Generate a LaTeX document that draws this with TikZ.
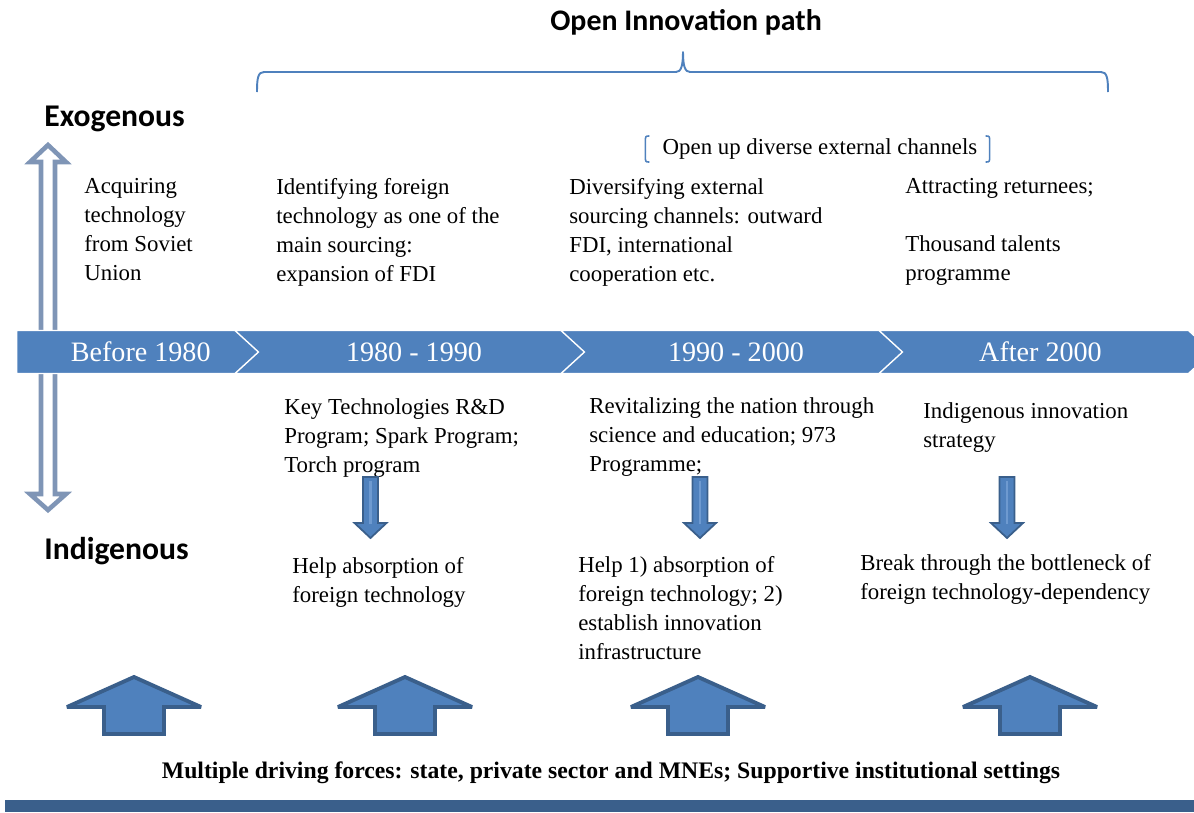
\documentclass[tikz,border=0pt]{standalone}
\usepackage{fontspec}
\setmainfont{Liberation Serif}
\newfontfamily\headfont{Carlito}
\usepackage{tikz}
\usetikzlibrary{positioning, shapes.symbols}

\definecolor{barblue}{HTML}{4F81BD}
\definecolor{edgeblue}{HTML}{3A5F8B}
\definecolor{axisgray}{HTML}{7F95B6}
\definecolor{shineblue}{HTML}{6E9AD0}

\begin{document}
\begin{tikzpicture}[
    x=0.02cm, y=-0.02cm,
    period/.style={signal, signal to=east, signal pointer angle=85, fill=barblue, draw=white, line width=0.8pt, text=white, minimum height=0.86cm, inner sep=0pt, font=\fontsize{16}{18}\selectfont},
    note/.style={align=left, anchor=north west, inner sep=0pt, font=\fontsize{13}{16.5}\selectfont},
    heading/.style={anchor=west, inner sep=0pt, font=\headfont\bfseries\fontsize{18}{20}\selectfont},
    brace/.style={draw=barblue, line width=1.1pt, line join=round},
    downarrow/.style={fill=barblue, draw=edgeblue, line width=1pt},
    uparrow/.style={fill=barblue, draw=edgeblue, line width=2.2pt}
    ]
    \useasboundingbox (0,0) rectangle (1194,812);

    % Title and brace
    \node (title) at (686,22) [inner sep=0pt, font=\headfont\bfseries\fontsize{17}{20}\selectfont] {Open Innovation path};
    \draw [brace] (257,92) .. controls (257,78) and (258,72) .. (264,72) -- (676,72)
        .. controls (681,72) and (683,66) .. (683,52) .. controls (683,66) and (685,72) .. (690,72)
        -- (1101,72) .. controls (1107,72) and (1108,78) .. (1108,92);

    % Axis labels and double arrow
    \node (exo) at (44,119) [heading] {Exogenous};
    \node (indi) at (44,551) [heading] {Indigenous};
    \draw [draw=axisgray, line width=2.6pt, fill=white, line join=miter]
        (48,145) -- (66,162) -- (55,162) -- (55,494) -- (66,494) -- (48,510)
        -- (30,494) -- (41,494) -- (41,162) -- (30,162) -- cycle;

    % Timeline
    \node (before) at (134.5,352) [period, minimum width=259*0.02cm] {\hspace*{0.25cm}Before 1980};
    \node (eighties) at (414,352) [period, signal from=west, minimum width=358*0.02cm] {1980 - 1990};
    \node (nineties) at (736,352) [period, signal from=west, minimum width=350*0.02cm] {1990 - 2000};
    \node (after) at (1045.5,352) [period, signal from=west, minimum width=333*0.02cm] {\hspace*{-0.2cm}After 2000};

    % Exogenous channels
    \node (channels) at (820,149) [inner sep=0pt, font=\fontsize{13}{16.5}\selectfont] {Open up diverse external channels};
    \draw [brace, line width=0.9pt] ([xshift=-0.26cm]channels.west |- 0,136) .. controls ([xshift=-0.34cm]channels.west |- 0,136) .. ([xshift=-0.34cm]channels.west |- 0,142)
        -- ([xshift=-0.34cm]channels.west |- 0,156) .. controls ([xshift=-0.34cm]channels.west |- 0,162) .. ([xshift=-0.26cm]channels.west |- 0,162);
    \draw [brace, line width=0.9pt] ([xshift=0.16cm]channels.east |- 0,136) .. controls ([xshift=0.24cm]channels.east |- 0,136) .. ([xshift=0.24cm]channels.east |- 0,142)
        -- ([xshift=0.24cm]channels.east |- 0,156) .. controls ([xshift=0.24cm]channels.east |- 0,162) .. ([xshift=0.16cm]channels.east |- 0,162);

    \node (soviet) at (84,178) [note] {Acquiring\\technology\\from Soviet\\Union};
    \node (fdi) at (276,178) [note] {Identifying foreign\\technology as one of the\\main sourcing:\\expansion of FDI};
    \node (outward) at (569,178) [note] {Diversifying external\\sourcing channels: outward\\FDI, international\\cooperation etc.};
    \node (talents) at (905,178) [note] {Attracting returnees;\\[16.5pt]Thousand talents\\programme};

    % Indigenous policies
    \node (keytech) at (284,398) [note] {Key Technologies R\&D\\Program; Spark Program;\\Torch program};
    \node (revital) at (589,397) [note] {Revitalizing the nation through\\science and education; 973\\Programme;};
    \node (strategy) at (923,402) [note] {Indigenous innovation\\strategy};

    \node (absorb) at (292,557) [note] {Help absorption of\\foreign technology};
    \node (infra) at (578,556) [note] {Help 1) absorption of\\foreign technology; 2)\\establish innovation\\infrastructure};
    \node (bottleneck) at (860,554) [note] {Break through the bottleneck of\\foreign technology-dependency};

    % Down arrows
    \foreach \c in {370.5,700,1007} {
        \draw [downarrow] (\c-7.5,477) -- (\c+7.5,477) -- (\c+7.5,523) -- (\c+16,523)
            -- (\c,538) -- (\c-16,523) -- (\c-7.5,523) -- cycle;
        \draw [shineblue, line width=1.4pt] (\c,481) -- (\c,524);
    }

    % Up arrows
    \foreach \c in {134,405,698,1030} {
        \draw [uparrow, line join=miter, miter limit=4] (\c,677) -- (\c+67,707) -- (\c+30,707) -- (\c+30,734)
            -- (\c-30,734) -- (\c-30,707) -- (\c-67,707) -- cycle;
    }

    % Driving forces
    \node (forces) at (611,773) [inner sep=0pt, font=\bfseries\fontsize{13.5}{15}\selectfont] {Multiple driving forces: state, private sector and MNEs; Supportive institutional settings};
    \fill [edgeblue] (5,800) rectangle (1194,812);
\end{tikzpicture}
\end{document}
